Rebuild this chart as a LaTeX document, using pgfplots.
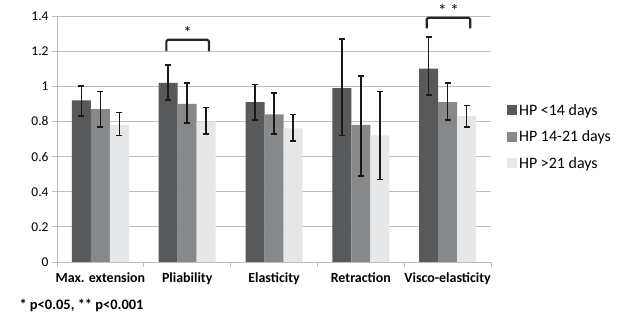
\documentclass[border=0pt]{standalone}
\usepackage{fontspec}
\setmainfont{Carlito}
\usepackage{pgfplots}
\pgfplotsset{compat=1.18}
\usepackage{pgfplotstable}
\definecolor{cdark}{HTML}{58595B}
\definecolor{cmid}{HTML}{87888A}
\definecolor{clight}{HTML}{E6E7E8}
\definecolor{cgrid}{HTML}{BEBEBE}

\pgfplotstableread{
x y ep em
0 0.92 0.08 0.09
1 1.02 0.10 0.10
2 0.91 0.10 0.10
3 0.99 0.28 0.27
4 1.10 0.18 0.15
}\dark
\pgfplotstableread{
x y ep em
0 0.87 0.10 0.10
1 0.90 0.12 0.11
2 0.84 0.12 0.11
3 0.78 0.28 0.29
4 0.91 0.11 0.10
}\mid
\pgfplotstableread{
x y ep em
0 0.78 0.07 0.06
1 0.80 0.08 0.07
2 0.76 0.08 0.07
3 0.72 0.25 0.25
4 0.83 0.06 0.06
}\light

\begin{document}
\begin{tikzpicture}
\path[use as bounding box] (0,0) rectangle (617bp,326bp);
\begin{axis}[
  at={(57bp,64bp)}, anchor=south west,
  scale only axis, width=434bp, height=246bp,
  ybar, bar width=19bp, ybar=0pt,
  xmin=-0.5, xmax=4.5, ymin=0, ymax=1.4,
  axis lines=left, axis line style={-, draw=cgrid, line width=0.8bp},
  ytick={0,0.2,0.4,0.6,0.8,1,1.2,1.4},
  yticklabels={0,0.2,0.4,0.6,0.8,1,1.2,1.4},
  ytick style={draw=cgrid, line width=0.8bp},
  tick align=outside, major tick length=5bp,
  ymajorgrids, grid style={draw=cgrid, line width=0.8bp},
  xtick={0,1,2,3,4},
  xticklabels={Max. extension, Pliability, Elasticity, Retraction, Visco-elasticity},
  xtick style={draw=none},
  extra x ticks={-0.5,0.5,1.5,2.5,3.5,4.5},
  extra x tick labels={},
  extra x tick style={xtick style={draw=cgrid, line width=0.8bp}, grid=none},
  xticklabel style={font=\bfseries\fontsize{14}{16}\selectfont, yshift=-2bp},
  yticklabel style={font=\fontsize{13.5}{15}\selectfont},
  /pgf/number format/assume math mode=true,
  clip=false,
  legend style={at={(1.03,0.508)}, anchor=west, draw=none, fill=none,
    font=\fontsize{16}{18}\selectfont, row sep=10bp},
  legend cell align=left,
  legend image code/.code={\fill[#1,draw=none] (0bp,-4.5bp) rectangle (10bp,5.5bp);},
  error bars/y dir=both, error bars/y explicit,
  error bars/error bar style={line width=1.7bp, black!90},
  error bars/error mark options={rotate=90, mark size=3bp, line width=1.7bp, black!90},
]
\addplot[fill=cdark, draw=none] table[x=x, y=y, y error plus=ep, y error minus=em] {\dark};
\addlegendentry{HP <14 days}
\addplot[fill=cmid, draw=none] table[x=x, y=y, y error plus=ep, y error minus=em] {\mid};
\addlegendentry{HP 14-21 days}
\addplot[fill=clight, draw=none] table[x=x, y=y, y error plus=ep, y error minus=em] {\light};
\addlegendentry{HP >21 days}
\draw[line width=2.2bp, black!85, rounded corners=1.5bp] (axis cs:0.76,1.2) -- (axis cs:0.76,1.265) -- (axis cs:1.25,1.265) -- (axis cs:1.25,1.2);
\node[font=\fontsize{17}{18}\selectfont, anchor=base, inner sep=1bp] at (axis cs:1.005,1.272) {*};
\draw[line width=2.2bp, black!85, rounded corners=1.5bp] (axis cs:3.76,1.33) -- (axis cs:3.76,1.39) -- (axis cs:4.26,1.39) -- (axis cs:4.26,1.33);
\node[font=\fontsize{17}{18}\selectfont, anchor=base, inner sep=1bp] at (axis cs:4.01,1.395) {* *};
\end{axis}
\node[anchor=west, font=\bfseries\fontsize{14.5}{16}\selectfont] at (16bp,21bp) {* p<0.05, ** p<0.001};
\end{tikzpicture}
\end{document}
